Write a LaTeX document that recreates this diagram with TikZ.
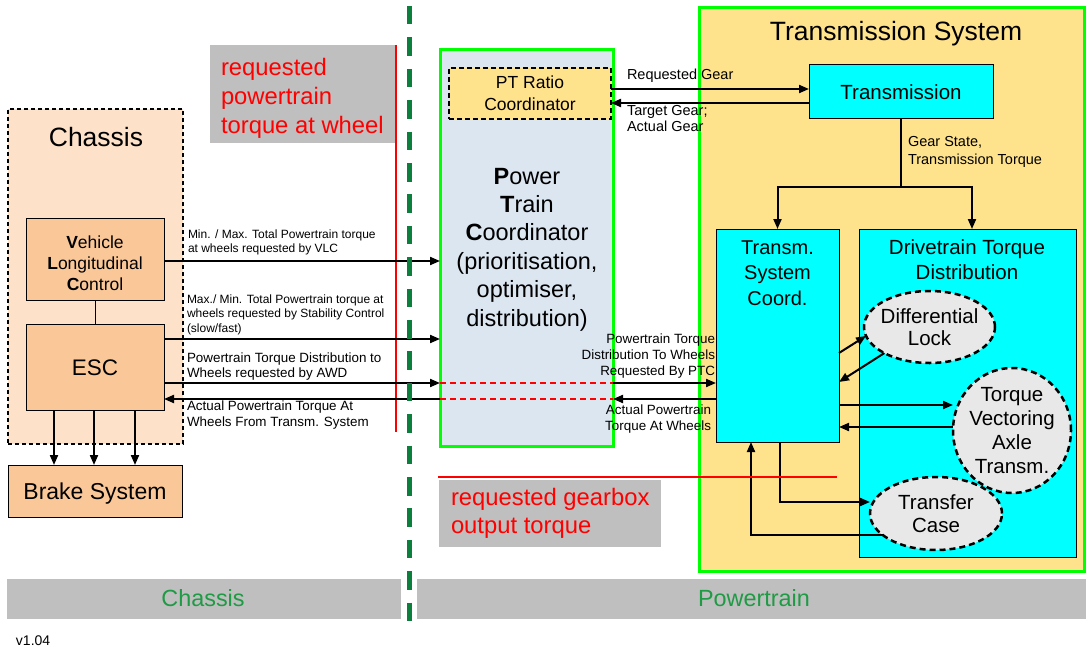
\documentclass[tikz,border=0pt]{standalone}
\usepackage{fontspec}
\setmainfont{Liberation Sans}
\usetikzlibrary{arrows.meta,shapes.geometric,fit}
\definecolor{chfill}{HTML}{FDE1C8}
\definecolor{vlcfill}{HTML}{FAC898}
\definecolor{ylw}{HTML}{FFE38C}
\definecolor{ptcfill}{HTML}{DCE6F1}
\definecolor{cyanf}{HTML}{00FFFF}
\definecolor{ellf}{HTML}{E8E8E8}
\definecolor{grayb}{HTML}{BFBFBF}
\definecolor{brgreen}{HTML}{00FF00}
\definecolor{dkgreen}{HTML}{0B7F3B}
\definecolor{txtgreen}{HTML}{1F9A45}
\newcommand{\fsz}[2]{\fontsize{#1}{#2}\selectfont}
\begin{document}
\begin{tikzpicture}[x=1pt,y=-1pt,
  every node/.style={inner sep=0pt, outer sep=0pt},
  rbox/.style={draw=black, line width=1pt},
  arr/.style={line width=2pt, -{Triangle[length=10pt,width=8pt]}},
  ell/.style={ellipse, draw=black, line width=2.5pt, dash pattern=on 6pt off 4pt, fill=ellf},
  redline/.style={red, line width=2.5pt},
  reddash/.style={red, line width=2pt, dash pattern=on 6pt off 4pt},
  redtxt/.style={anchor=north west, align=left, text=red},
  band/.style={fill=grayb},
  bandtxt/.style={text=txtgreen, font=\fsz{23.4}{27}}
]
\useasboundingbox (0,0) rectangle (1086,650);

% ---------- Chassis side ----------
\node[fit={(8,109)(183,444)}, draw=black, line width=1.5pt, dash pattern=on 4pt off 3pt, fill=chfill] (chassis) {};
\node[anchor=base, font=\fsz{26.5}{30}] (chtitle) at (96,146.7) {Chassis};
\node[fit={(26,218)(164,300)}, rbox, fill=vlcfill] (vlc) {};
\node[align=center, font=\fsz{17.5}{21}] (vlctxt) at (95,263) {\textbf{V}ehicle\\\textbf{L}ongitudinal\\\textbf{C}ontrol};
\node[fit={(26,324)(164,410)}, rbox, fill=vlcfill] (esc) {};
\node[anchor=base, font=\fsz{22.5}{26}] (esctxt) at (95,375.5) {ESC};
\node[fit={(8,465)(182,517)}, rbox, fill=vlcfill] (brake) {};
\node[anchor=base, font=\fsz{23}{27}] (braketxt) at (95,499.5) {Brake System};
\draw[line width=1pt] (vlc.south) -- (esc.north);
\foreach \xx in {54,94,135} \draw[arr] (esc.south -| \xx,0) -- (brake.north -| \xx,0);

% ---------- requested torque at wheel ----------
\node[fit={(210,45)(396,143)}, fill=grayb] (gb1) {};
\node[redtxt, font=\fsz{23.8}{29}] (rt1) at (221,58) {requested\\powertrain\\torque at wheel};
\draw[redline] (396,45) -- (396,432);

% ---------- Power Train Coordinator ----------
\node[fit={(440,50)(613,446)}, draw=brgreen, line width=3pt, fill=ptcfill] (ptc) {};
\node[anchor=north, align=center, font=\fsz{23.5}{28.4}] (ptctxt) at (527,168) {\textbf{P}ower\\\textbf{T}rain\\\textbf{C}oordinator\\(prioritisation,\\optimiser,\\distribution)};
\node[fit={(449,68)(611,119)}, draw=black, line width=2pt, dash pattern=on 5pt off 3pt, fill=ylw] (ptr) {};
\node[anchor=north, align=center, font=\fsz{17.5}{21.7}] (ptrtxt) at (530,75.7) {PT Ratio\\Coordinator};

% ---------- Transmission System ----------
\node[fit={(699,8)(1084,571)}, draw=brgreen, line width=3pt, fill=ylw] (ts) {};
\node[anchor=base, font=\fsz{26.5}{30}] (tstitle) at (896,41) {Transmission System};
\node[fit={(809,65)(993,119)}, rbox, fill=cyanf] (trans) {};
\node[anchor=base, font=\fsz{20.5}{24}] (transtxt) at (901,100) {Transmission};
\node[fit={(716,229)(839,442)}, rbox, fill=cyanf] (coord) {};
\node[anchor=north, align=center, font=\fsz{20}{25.5}] (coordtxt) at (777.5,240.6) {Transm.\\System\\Coord.};
\node[fit={(859,229)(1076,557)}, rbox, fill=cyanf] (dtd) {};
\node[anchor=north, align=center, font=\fsz{20.5}{25}] (dtdtxt) at (967,239.2) {Drivetrain Torque\\Distribution};
\node[ell, minimum width=131pt, minimum height=72pt] (dl) at (929.5,327) {};
\node[align=center, font=\fsz{20.5}{22.5}] (dltxt) at (dl) {Differential\\Lock};
\node[ell, minimum width=118pt, minimum height=125pt] (tv) at (1012,430.5) {};
\node[align=center, font=\fsz{20.5}{23.7}] (tvtxt) at (tv) {Torque\\Vectoring\\Axle\\Transm.};
\node[ell, minimum width=132pt, minimum height=73pt] (tc) at (936,513.5) {};
\node[align=center, font=\fsz{20.5}{23.3}] (tctxt) at (tc) {Transfer\\Case};

% gear connections
\draw[arr] (ptr.east |- 0,89) -- (trans.west |- 0,89);
\draw[arr] (trans.west |- 0,103) -- (ptr.east |- 0,103);
\node[anchor=base west, font=\fsz{14.5}{16}] (lrg) at (627,80) {Requested Gear};
\node[anchor=north west, align=left, font=\fsz{14.5}{16}] (ltg) at (627,105.6) {Target Gear;\\Actual Gear};

\coordinate (gsj) at (trans.south |- 0,187);
\draw[line width=2pt] (trans.south) -- (gsj);
\draw[arr] (gsj) -| (coord.north);
\draw[arr] (gsj) -| (dtd.north -| 972,0);
\node[anchor=north west, align=left, font=\fsz{14.5}{18}] (lgs) at (908,136.6) {Gear State,\\Transmission Torque};

% ---------- chassis <-> PTC ----------
\draw[arr] (vlc.east |- 0,261) -- (ptc.west |- 0,261);
\draw[arr] (esc.east |- 0,339) -- (ptc.west |- 0,339);
\draw[arr] (esc.east |- 0,383) -- (ptc.west |- 0,383);
\draw[arr] (ptc.west |- 0,399) -- (esc.east |- 0,399);
\node[anchor=north west, align=left, font=\fsz{12}{14}] (l1) at (188,229.4) {Min. / Max. Total Powertrain torque\\at wheels requested by VLC};
\node[anchor=north west, align=left, font=\fsz{12}{14.5}] (l2) at (187,294.4) {Max./ Min. Total Powertrain torque at\\wheels requested by Stability Control\\(slow/fast)};
\node[anchor=north west, align=left, font=\fsz{13.4}{15.5}] (l3) at (187,352.4) {Powertrain Torque Distribution to\\Wheels requested by AWD};
\node[anchor=north west, align=left, font=\fsz{13.4}{16.5}] (l4) at (187,400.4) {Actual Powertrain Torque At\\Wheels From Transm. System};

% ---------- PTC <-> Transm. System Coord ----------
\draw[reddash] (ptc.west |- 0,383) -- (ptc.east |- 0,383);
\draw[reddash] (ptc.west |- 0,399) -- (ptc.east |- 0,399);
\draw[arr] (ptc.east |- 0,383) -- (coord.west |- 0,383);
\draw[arr] (coord.west |- 0,399) -- (ptc.east |- 0,399);
\node[anchor=north east, align=right, font=\fsz{13.4}{16}] (l5) at (715,333.4) {Powertrain Torque\\Distribution To Wheels\\Requested By PTC};
\node[anchor=north east, align=right, font=\fsz{13.4}{16}] (l6) at (711,404.4) {Actual Powertrain\\Torque At Wheels};

% ---------- Coord <-> drivetrain parts ----------
\draw[arr] (coord.east |- 0,353) -- (dl.188);
\draw[arr] (dl.210) -- (coord.east |- 0,382);
\draw[arr] (coord.east |- 0,405) -- (tv.west |- 0,405);
\draw[arr] (tv.west |- 0,427) -- (coord.east |- 0,427);
\draw[arr] (coord.south -| 780,0) |- (tc.west |- 0,502);
\draw[arr] (tc.202) -| (coord.south -| 751,0);

% ---------- requested gearbox output torque ----------
\draw[redline] (438,477) -- (837,477);
\node[fit={(439,480)(661,547)}, fill=grayb] (gb2) {};
\node[redtxt, font=\fsz{23.8}{28.3}] (rt2) at (451,488) {requested gearbox\\output torque};

% ---------- bottom bands ----------
\node[fit={(7,579)(401,619)}, band] (bch) {};
\node[anchor=base, bandtxt] (bchtxt) at (203,606.7) {Chassis};
\node[fit={(417,579)(1086,619)}, band] (bpt) {};
\node[anchor=base, bandtxt] (bpttxt) at (754,606.7) {Powertrain};
\draw[dkgreen, line width=5pt, dash pattern=on 18.5pt off 12.9pt] (409.5,6) -- (409.5,621);
\node[anchor=base west, font=\fsz{14}{16}] (ver) at (16,645) {v1.04};
\end{tikzpicture}
\end{document}
